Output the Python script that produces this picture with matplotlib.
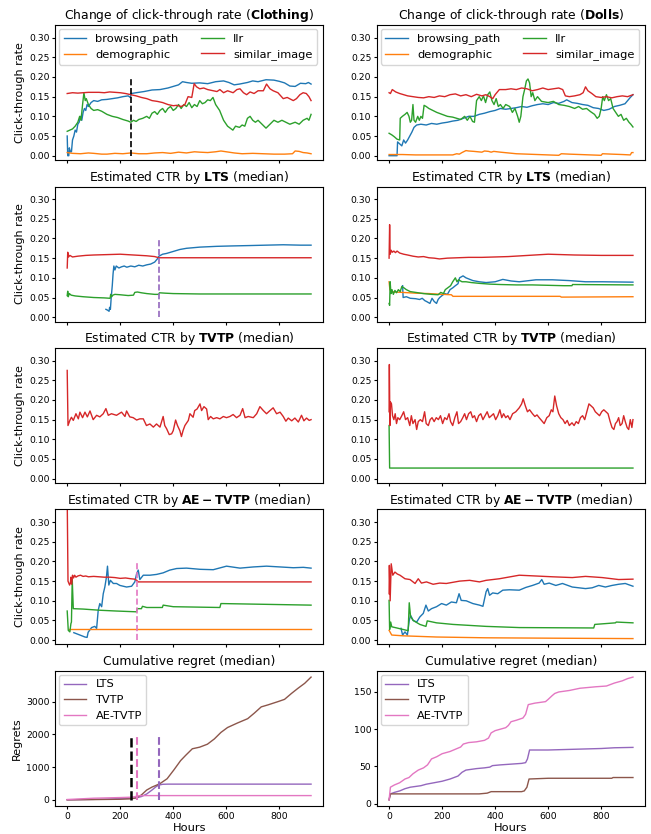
import numpy as np
import matplotlib
matplotlib.use('Agg')
import matplotlib.pyplot as plt

# (hour, value) pairs

# --- Change of click-through rate, Clothing
cloth_browsing = [(0, 0.05), (2, 0.0), (6, 0.0), (8, 0.02), (12, 0.01), (16, 0.01), (20, 0.04), (25, 0.05),
                  (30, 0.065), (35, 0.06), (40, 0.08), (45, 0.085), (50, 0.10), (55, 0.09), (60, 0.11), (65, 0.12),
                  (70, 0.115), (75, 0.13), (80, 0.125), (90, 0.135), (100, 0.14), (115, 0.138), (130, 0.142),
                  (150, 0.143), (170, 0.145), (190, 0.147), (210, 0.15), (230, 0.152), (238, 0.148), (242, 0.158),
                  (260, 0.16), (290, 0.163), (320, 0.167), (350, 0.168), (380, 0.172), (400, 0.176), (420, 0.18),
                  (435, 0.188), (450, 0.186), (470, 0.184), (500, 0.185), (530, 0.183), (560, 0.188), (590, 0.19),
                  (610, 0.186), (630, 0.18), (650, 0.182), (680, 0.186), (700, 0.19), (720, 0.188), (750, 0.193),
                  (780, 0.192), (800, 0.189), (820, 0.185), (840, 0.177), (860, 0.176), (880, 0.184), (900, 0.183),
                  (910, 0.186), (920, 0.182)]
cloth_demo = [(0, 0.008), (20, 0.006), (50, 0.005), (80, 0.007), (100, 0.006), (130, 0.004), (150, 0.004),
              (180, 0.006), (210, 0.005), (240, 0.007), (270, 0.005), (300, 0.005), (330, 0.007), (360, 0.008),
              (390, 0.006), (420, 0.009), (450, 0.007), (480, 0.01), (500, 0.009), (530, 0.008), (560, 0.01),
              (580, 0.012), (600, 0.01), (630, 0.007), (660, 0.005), (700, 0.006), (740, 0.005), (780, 0.004),
              (820, 0.004), (850, 0.005), (860, 0.012), (875, 0.011), (890, 0.008), (905, 0.007), (920, 0.005)]
cloth_llr = [(0, 0.062), (10, 0.065), (20, 0.068), (30, 0.075), (40, 0.085), (47, 0.1), (52, 0.09), (58, 0.13),
             (63, 0.16), (68, 0.14), (72, 0.145), (80, 0.13), (90, 0.12), (100, 0.115), (115, 0.117), (130, 0.113),
             (150, 0.105), (170, 0.1), (190, 0.097), (210, 0.092), (230, 0.088), (240, 0.085), (250, 0.09),
             (260, 0.087), (270, 0.092), (285, 0.095), (300, 0.1), (310, 0.095), (320, 0.108), (330, 0.112),
             (340, 0.105), (350, 0.115), (360, 0.12), (370, 0.11), (380, 0.12), (390, 0.125), (400, 0.115),
             (410, 0.12), (420, 0.13), (430, 0.12), (440, 0.13), (450, 0.125), (460, 0.135), (470, 0.122),
             (480, 0.13), (490, 0.125), (500, 0.14), (510, 0.132), (520, 0.135), (530, 0.142), (540, 0.14),
             (550, 0.148), (560, 0.13), (575, 0.115), (590, 0.09), (605, 0.075), (615, 0.07), (625, 0.065),
             (635, 0.075), (650, 0.072), (660, 0.078), (670, 0.075), (680, 0.095), (690, 0.1), (700, 0.09),
             (710, 0.085), (720, 0.09), (735, 0.08), (750, 0.07), (765, 0.08), (780, 0.09), (795, 0.085),
             (810, 0.09), (825, 0.085), (840, 0.08), (860, 0.085), (875, 0.08), (890, 0.09), (905, 0.095),
             (912, 0.09), (920, 0.105)]
cloth_sim = [(0, 0.158), (20, 0.16), (40, 0.159), (60, 0.16), (80, 0.161), (100, 0.161), (120, 0.161), (140, 0.16),
             (160, 0.162), (180, 0.161), (200, 0.16), (220, 0.158), (240, 0.155), (260, 0.152), (280, 0.148),
             (300, 0.145), (320, 0.14), (340, 0.138), (360, 0.135), (380, 0.13), (400, 0.127), (413, 0.128),
             (430, 0.125), (444, 0.13), (450, 0.14), (456, 0.15), (470, 0.148), (479, 0.183), (488, 0.175),
             (500, 0.17), (515, 0.172), (530, 0.168), (551, 0.165), (565, 0.163), (576, 0.168), (590, 0.16),
             (605, 0.165), (626, 0.16), (640, 0.168), (652, 0.17), (665, 0.16), (677, 0.155), (690, 0.162),
             (705, 0.158), (720, 0.165), (740, 0.165), (752, 0.182), (765, 0.17), (777, 0.165), (795, 0.16),
             (815, 0.145), (830, 0.148), (853, 0.14), (865, 0.145), (878, 0.155), (890, 0.16), (902, 0.158),
             (912, 0.15), (920, 0.14)]

# --- Change of click-through rate, Dolls
doll_browsing = [(0, 0.0), (30, 0.0), (32, 0.035), (40, 0.03), (48, 0.025), (55, 0.04), (62, 0.032), (70, 0.04),
                 (78, 0.05), (86, 0.06), (94, 0.072), (104, 0.078), (120, 0.08), (140, 0.078), (160, 0.082),
                 (180, 0.08), (200, 0.083), (220, 0.085), (240, 0.088), (260, 0.09), (280, 0.095), (300, 0.1),
                 (320, 0.1), (340, 0.105), (360, 0.108), (380, 0.112), (400, 0.115), (420, 0.12), (440, 0.118),
                 (460, 0.12), (480, 0.122), (500, 0.125), (520, 0.123), (540, 0.127), (560, 0.13), (580, 0.132),
                 (600, 0.13), (620, 0.135), (640, 0.133), (660, 0.138), (670, 0.142), (690, 0.135), (710, 0.133),
                 (730, 0.13), (750, 0.128), (770, 0.122), (790, 0.12), (810, 0.115), (830, 0.118), (850, 0.125),
                 (870, 0.128), (890, 0.132), (900, 0.14), (910, 0.148), (920, 0.155)]
doll_demo = [(0, 0.003), (50, 0.003), (100, 0.002), (150, 0.002), (200, 0.002), (240, 0.002), (255, 0.005),
             (265, 0.004), (275, 0.008), (290, 0.013), (300, 0.012), (320, 0.011), (350, 0.009), (360, 0.012),
             (375, 0.011), (385, 0.009), (395, 0.011), (420, 0.009), (450, 0.007), (480, 0.005), (520, 0.004),
             (560, 0.003), (600, 0.002), (640, 0.001), (650, 0.005), (680, 0.004), (720, 0.003), (760, 0.002),
             (800, 0.001), (805, 0.005), (840, 0.004), (880, 0.003), (910, 0.002), (915, 0.008), (920, 0.008)]
doll_llr = [(0, 0.057), (10, 0.053), (20, 0.048), (30, 0.042), (40, 0.04), (42, 0.095), (50, 0.1), (60, 0.105),
            (68, 0.11), (75, 0.1), (80, 0.085), (85, 0.09), (90, 0.13), (94, 0.09), (100, 0.085), (108, 0.1),
            (114, 0.09), (120, 0.1), (126, 0.095), (132, 0.128), (140, 0.125), (150, 0.12), (165, 0.115),
            (180, 0.11), (200, 0.105), (220, 0.1), (240, 0.098), (255, 0.095), (270, 0.092), (285, 0.1),
            (295, 0.09), (305, 0.1), (315, 0.087), (322, 0.085), (330, 0.14), (340, 0.15), (348, 0.14),
            (356, 0.152), (364, 0.135), (372, 0.155), (380, 0.162), (388, 0.14), (396, 0.13), (404, 0.145),
            (412, 0.125), (420, 0.13), (430, 0.12), (440, 0.13), (455, 0.125), (465, 0.11), (475, 0.12),
            (485, 0.1), (491, 0.085), (497, 0.1), (505, 0.15), (512, 0.17), (518, 0.19), (524, 0.195),
            (530, 0.185), (536, 0.15), (542, 0.16), (550, 0.14), (560, 0.15), (575, 0.138), (600, 0.135),
            (620, 0.138), (640, 0.13), (660, 0.128), (680, 0.125), (700, 0.12), (715, 0.125), (730, 0.118),
            (745, 0.12), (760, 0.112), (775, 0.105), (785, 0.095), (793, 0.1), (800, 0.12), (806, 0.15),
            (812, 0.14), (820, 0.155), (828, 0.14), (836, 0.145), (845, 0.12), (855, 0.11), (865, 0.1),
            (875, 0.105), (885, 0.09), (895, 0.095), (905, 0.085), (912, 0.08), (920, 0.073)]
doll_sim = [(0, 0.16), (5, 0.158), (12, 0.168), (25, 0.162), (40, 0.158), (55, 0.155), (70, 0.152), (90, 0.15),
            (110, 0.148), (130, 0.147), (150, 0.15), (170, 0.148), (190, 0.152), (210, 0.15), (230, 0.155),
            (250, 0.157), (270, 0.152), (290, 0.155), (310, 0.15), (330, 0.156), (350, 0.152), (365, 0.155),
            (380, 0.15), (391, 0.145), (400, 0.155), (416, 0.168), (440, 0.168), (460, 0.17), (480, 0.168),
            (500, 0.172), (520, 0.17), (540, 0.165), (560, 0.168), (580, 0.172), (600, 0.168), (620, 0.17),
            (640, 0.172), (655, 0.168), (665, 0.152), (680, 0.15), (700, 0.152), (720, 0.155), (732, 0.16),
            (741, 0.175), (750, 0.165), (765, 0.158), (780, 0.15), (800, 0.148), (820, 0.15), (840, 0.147),
            (860, 0.15), (880, 0.152), (900, 0.15), (920, 0.155)]

# --- LTS estimates
lts_cloth_browsing = [(146, 0.02), (152, 0.018), (158, 0.015), (160, 0.025), (163, 0.02), (166, 0.05), (170, 0.08),
                      (173, 0.11), (176, 0.13), (180, 0.12), (185, 0.13), (195, 0.125), (205, 0.128), (215, 0.13),
                      (225, 0.127), (240, 0.13), (255, 0.128), (270, 0.132), (285, 0.13), (300, 0.133), (315, 0.135),
                      (330, 0.14), (340, 0.148), (346, 0.155), (360, 0.16), (375, 0.162), (400, 0.167), (425, 0.172),
                      (450, 0.175), (500, 0.178), (564, 0.18), (620, 0.181), (689, 0.182), (750, 0.183),
                      (815, 0.184), (880, 0.183), (920, 0.183)]
lts_cloth_llr = [(0, 0.055), (2, 0.066), (4, 0.052), (8, 0.06), (15, 0.056), (30, 0.054), (60, 0.052), (100, 0.05),
                 (140, 0.049), (162, 0.048), (164, 0.058), (168, 0.052), (172, 0.056), (180, 0.058), (200, 0.057),
                 (230, 0.055), (250, 0.056), (255, 0.063), (265, 0.064), (280, 0.062), (300, 0.06), (330, 0.058),
                 (345, 0.058), (348, 0.062), (370, 0.061), (400, 0.06), (500, 0.059), (920, 0.059)]
lts_cloth_sim = [(0, 0.125), (2, 0.165), (5, 0.153), (10, 0.157), (20, 0.153), (40, 0.155), (70, 0.157),
                 (100, 0.158), (150, 0.159), (200, 0.16), (250, 0.158), (300, 0.156), (330, 0.154), (346, 0.151),
                 (920, 0.151)]
lts_doll_browsing = [(51, 0.08), (53, 0.05), (65, 0.052), (80, 0.048), (100, 0.047), (115, 0.045), (125, 0.048),
                     (135, 0.042), (141, 0.04), (154, 0.035), (162, 0.048), (170, 0.04), (179, 0.035), (185, 0.045),
                     (191, 0.05), (200, 0.055), (210, 0.06), (220, 0.058), (230, 0.07), (241, 0.075), (250, 0.08),
                     (260, 0.085), (266, 0.1), (279, 0.105), (290, 0.1), (316, 0.093), (340, 0.09), (366, 0.088),
                     (400, 0.09), (429, 0.096), (460, 0.092), (491, 0.09), (554, 0.095), (616, 0.095), (679, 0.093),
                     (741, 0.09), (804, 0.09), (920, 0.089)]
lts_doll_demo = [(0, 0.09), (3, 0.07), (8, 0.065), (20, 0.064), (50, 0.063), (100, 0.061), (150, 0.06),
                 (200, 0.058), (235, 0.057), (241, 0.053), (400, 0.053), (550, 0.053), (645, 0.053), (650, 0.051),
                 (920, 0.052)]
lts_doll_llr = [(0, 0.035), (2, 0.03), (4, 0.09), (7, 0.06), (11, 0.07), (16, 0.058), (22, 0.068), (28, 0.062),
                (35, 0.07), (42, 0.065), (48, 0.078), (55, 0.075), (65, 0.07), (80, 0.065), (100, 0.063),
                (130, 0.06), (160, 0.058), (185, 0.057), (195, 0.063), (205, 0.06), (212, 0.07), (222, 0.075),
                (232, 0.08), (240, 0.09), (250, 0.1), (256, 0.09), (262, 0.095), (275, 0.09), (290, 0.09),
                (310, 0.088), (340, 0.086), (380, 0.084), (420, 0.083), (480, 0.082), (540, 0.082), (600, 0.081),
                (660, 0.08), (690, 0.08), (692, 0.083), (920, 0.082)]
lts_doll_sim = [(0, 0.15), (2, 0.235), (4, 0.16), (8, 0.17), (12, 0.165), (18, 0.168), (24, 0.164), (30, 0.168),
                (40, 0.163), (55, 0.16), (70, 0.158), (90, 0.155), (110, 0.153), (130, 0.154), (150, 0.151),
                (170, 0.15), (190, 0.148), (220, 0.15), (260, 0.151), (300, 0.152), (350, 0.152), (400, 0.153),
                (450, 0.154), (500, 0.156), (550, 0.158), (600, 0.16), (650, 0.159), (700, 0.158), (800, 0.157),
                (920, 0.157)]

# --- TVTP estimates
tvtp_cloth_sim = [(0, 0.275), (3, 0.135), (10, 0.148), (16, 0.156), (23, 0.148), (33, 0.165), (42, 0.152),
                  (48, 0.169), (58, 0.155), (67, 0.169), (76, 0.157), (86, 0.172), (98, 0.15), (111, 0.161),
                  (123, 0.157), (136, 0.165), (146, 0.178), (155, 0.161), (167, 0.165), (186, 0.161), (205, 0.169),
                  (218, 0.158), (224, 0.172), (236, 0.157), (249, 0.155), (262, 0.149), (274, 0.152), (287, 0.152),
                  (299, 0.135), (312, 0.139), (325, 0.131), (337, 0.139), (350, 0.131), (362, 0.158), (368, 0.135),
                  (375, 0.127), (385, 0.112), (394, 0.114), (400, 0.122), (409, 0.149), (416, 0.135), (425, 0.122),
                  (431, 0.107), (437, 0.122), (444, 0.135), (457, 0.148), (463, 0.165), (475, 0.156), (481, 0.173),
                  (490, 0.177), (501, 0.19), (507, 0.173), (516, 0.183), (526, 0.177), (532, 0.15), (541, 0.158),
                  (551, 0.152), (564, 0.155), (576, 0.152), (589, 0.158), (601, 0.155), (614, 0.158), (626, 0.163),
                  (639, 0.155), (652, 0.161), (662, 0.178), (671, 0.155), (683, 0.158), (702, 0.155), (715, 0.165),
                  (727, 0.183), (740, 0.173), (752, 0.165), (765, 0.173), (777, 0.18), (790, 0.165), (803, 0.169),
                  (815, 0.158), (825, 0.146), (834, 0.154), (847, 0.147), (859, 0.154), (872, 0.144), (884, 0.161),
                  (893, 0.147), (903, 0.154), (913, 0.148), (920, 0.15)]
tvtp_doll_llr = [(0, 0.135), (2, 0.027), (920, 0.027)]
tvtp_doll_sim = [(0, 0.17), (1, 0.29), (3, 0.135), (5, 0.195), (9, 0.19), (13, 0.16), (18, 0.15), (23, 0.165),
                 (28, 0.14), (33, 0.155), (40, 0.15), (48, 0.16), (55, 0.17), (62, 0.15), (70, 0.155), (78, 0.135),
                 (84, 0.16), (90, 0.14), (98, 0.15), (104, 0.125), (110, 0.145), (118, 0.15), (126, 0.145),
                 (134, 0.17), (140, 0.14), (148, 0.135), (155, 0.15), (162, 0.155), (170, 0.145), (178, 0.155),
                 (186, 0.15), (194, 0.16), (202, 0.14), (210, 0.155), (218, 0.15), (226, 0.165), (232, 0.145),
                 (240, 0.135), (248, 0.155), (256, 0.17), (262, 0.14), (270, 0.145), (278, 0.155), (285, 0.165),
                 (292, 0.15), (300, 0.165), (308, 0.17), (315, 0.155), (322, 0.16), (330, 0.145), (338, 0.16),
                 (346, 0.165), (354, 0.15), (362, 0.16), (370, 0.17), (378, 0.155), (386, 0.16), (394, 0.165),
                 (402, 0.15), (410, 0.16), (418, 0.175), (425, 0.155), (432, 0.165), (440, 0.155), (448, 0.16),
                 (456, 0.15), (466, 0.165), (478, 0.17), (491, 0.18), (500, 0.19), (506, 0.203), (514, 0.185),
                 (522, 0.17), (530, 0.175), (541, 0.165), (550, 0.158), (558, 0.162), (566, 0.155), (575, 0.148),
                 (585, 0.14), (595, 0.155), (604, 0.16), (612, 0.175), (618, 0.17), (625, 0.21), (632, 0.185),
                 (640, 0.165), (648, 0.155), (656, 0.15), (664, 0.14), (672, 0.148), (680, 0.135), (690, 0.142),
                 (698, 0.135), (706, 0.145), (714, 0.14), (722, 0.155), (730, 0.16), (738, 0.15), (746, 0.17),
                 (754, 0.19), (762, 0.185), (770, 0.18), (778, 0.17), (786, 0.165), (794, 0.16), (802, 0.17),
                 (810, 0.175), (818, 0.17), (826, 0.165), (834, 0.145), (841, 0.13), (848, 0.125), (854, 0.14),
                 (860, 0.145), (866, 0.155), (872, 0.135), (879, 0.14), (885, 0.16), (891, 0.145), (898, 0.13),
                 (904, 0.125), (910, 0.15), (916, 0.13), (920, 0.15)]

# --- AE-TVTP estimates
ae_cloth_browsing = [(25, 0.019), (48, 0.013), (67, 0.008), (75, 0.007), (79, 0.02), (92, 0.032), (104, 0.035),
                     (111, 0.03), (117, 0.076), (123, 0.093), (130, 0.085), (136, 0.118), (142, 0.135), (148, 0.16),
                     (152, 0.188), (157, 0.14), (163, 0.152), (174, 0.144), (186, 0.144), (199, 0.139), (224, 0.135),
                     (243, 0.137), (255, 0.148), (262, 0.169), (268, 0.178), (274, 0.154), (287, 0.165), (312, 0.165),
                     (337, 0.167), (362, 0.171), (387, 0.178), (413, 0.182), (450, 0.183), (501, 0.18), (551, 0.179),
                     (601, 0.188), (652, 0.183), (702, 0.186), (752, 0.188), (803, 0.186), (853, 0.184),
                     (891, 0.185), (920, 0.183)]
ae_cloth_demo = [(8, 0.029), (920, 0.029)]
ae_cloth_llr = [(0, 0.074), (4, 0.025), (10, 0.021), (14, 0.042), (16, 0.046), (19, 0.154), (23, 0.08), (60, 0.079),
                (123, 0.076), (186, 0.074), (262, 0.072), (264, 0.08), (280, 0.08), (284, 0.086), (300, 0.083),
                (359, 0.083), (362, 0.089), (400, 0.085), (576, 0.083), (580, 0.093), (920, 0.089)]
ae_cloth_sim = [(0, 0.36), (3, 0.15), (6, 0.145), (9, 0.14), (12, 0.145), (14, 0.16), (17, 0.142), (20, 0.165),
                (24, 0.158), (28, 0.165), (33, 0.16), (40, 0.163), (50, 0.165), (60, 0.162), (70, 0.163),
                (80, 0.161), (100, 0.162), (120, 0.161), (140, 0.16), (160, 0.16), (180, 0.159), (200, 0.157),
                (220, 0.158), (240, 0.156), (255, 0.155), (262, 0.152), (268, 0.148), (920, 0.148)]
ae_doll_browsing = [(45, 0.03), (51, 0.013), (60, 0.021), (69, 0.013), (76, 0.05), (81, 0.063), (91, 0.05),
                    (104, 0.046), (116, 0.059), (129, 0.068), (139, 0.089), (148, 0.074), (160, 0.08), (179, 0.085),
                    (198, 0.093), (216, 0.089), (235, 0.097), (254, 0.095), (264, 0.118), (272, 0.101), (291, 0.1),
                    (316, 0.093), (341, 0.089), (354, 0.086), (366, 0.123), (372, 0.131), (379, 0.114), (391, 0.12),
                    (410, 0.118), (429, 0.127), (454, 0.128), (491, 0.127), (516, 0.134), (541, 0.139),
                    (566, 0.145), (576, 0.154), (585, 0.142), (604, 0.145), (629, 0.139), (654, 0.144),
                    (691, 0.135), (716, 0.133), (741, 0.131), (766, 0.133), (791, 0.139), (816, 0.135),
                    (841, 0.139), (866, 0.142), (891, 0.144), (920, 0.137)]
ae_doll_demo = [(0, 0.025), (10, 0.013), (54, 0.011), (179, 0.008), (366, 0.006), (616, 0.005), (920, 0.004)]
ae_doll_llr = [(0, 0.101), (2, 0.027), (6, 0.046), (10, 0.034), (29, 0.031), (54, 0.027), (72, 0.024), (76, 0.095),
               (81, 0.06), (91, 0.05), (116, 0.04), (139, 0.035), (144, 0.049), (179, 0.044), (241, 0.04),
               (366, 0.035), (491, 0.032), (772, 0.031), (776, 0.04), (854, 0.044), (857, 0.046), (920, 0.044)]
ae_doll_sim = [(0, 0.118), (1, 0.19), (4, 0.1), (8, 0.194), (14, 0.165), (22, 0.173), (31, 0.168), (41, 0.165),
               (60, 0.156), (79, 0.154), (98, 0.144), (110, 0.156), (122, 0.145), (141, 0.148), (166, 0.142),
               (191, 0.145), (216, 0.144), (266, 0.15), (304, 0.152), (341, 0.148), (366, 0.152), (416, 0.156),
               (466, 0.162), (491, 0.165), (554, 0.163), (616, 0.161), (691, 0.159), (741, 0.162), (804, 0.159),
               (866, 0.154), (920, 0.155)]

# --- cumulative regret
regret_cloth_lts = [(0, 0), (100, 15), (150, 25), (200, 40), (240, 50), (260, 60), (280, 100), (300, 180),
                    (320, 300), (335, 400), (345, 450), (360, 475), (380, 480), (920, 480)]
regret_cloth_tvtp = [(0, 0), (100, 8), (200, 18), (240, 30), (260, 60), (280, 150), (300, 300), (320, 390),
                     (349, 490), (377, 645), (403, 920), (428, 1200), (447, 1360), (472, 1560), (500, 1610),
                     (529, 1700), (555, 1860), (580, 2060), (605, 2210), (643, 2350), (681, 2480), (706, 2650),
                     (732, 2840), (757, 2900), (795, 3000), (820, 3070), (846, 3250), (871, 3410), (896, 3560),
                     (920, 3750)]
regret_cloth_ae = [(0, 10), (50, 30), (100, 50), (150, 60), (200, 70), (240, 80), (255, 95), (265, 120),
                   (280, 128), (300, 130), (920, 130)]
regret_doll_lts = [(0, 5), (5, 13), (20, 15), (40, 17), (60, 20), (80, 22), (100, 23), (120, 24), (140, 26),
                   (170, 28), (200, 30), (230, 33), (260, 37), (275, 42), (290, 45), (330, 47), (360, 48),
                   (380, 49), (390, 51), (420, 52), (460, 53), (500, 54), (515, 55), (522, 60), (530, 72),
                   (600, 72), (700, 73), (800, 74), (850, 75), (920, 75.5)]
regret_doll_tvtp = [(0, 5), (5, 13), (100, 13), (340, 13), (370, 14), (385, 16), (500, 16), (510, 17), (520, 22),
                    (528, 33), (600, 34), (840, 34), (845, 35), (920, 35)]
regret_doll_ae = [(0, 5), (5, 22), (20, 25), (40, 28), (60, 33), (75, 35), (90, 40), (110, 45), (130, 48),
                  (145, 52), (160, 60), (180, 63), (200, 67), (230, 70), (250, 73), (270, 76), (280, 80),
                  (300, 82), (330, 83), (360, 85), (375, 88), (385, 95), (400, 98), (420, 100), (440, 102),
                  (450, 105), (460, 110), (480, 112), (505, 115), (515, 120), (525, 133), (550, 135), (590, 137),
                  (600, 140), (615, 145), (625, 148), (640, 150), (680, 152), (720, 155), (780, 157), (820, 158),
                  (850, 162), (880, 165), (900, 168), (920, 170)]

# change points (hours)
true_change = 239
lts_detect = 346
ae_detect = 265

arm_names = ['browsing_path', 'demographic', 'llr', 'similar_image']
arm_colors = ['tab:blue', 'tab:orange', 'tab:green', 'tab:red']
algo_colors = {'LTS': 'tab:purple', 'TVTP': 'tab:brown', 'AE-TVTP': 'tab:pink'}


def draw(ax, pts, color, label=None):
    arr = np.array(pts, dtype=float)
    ax.plot(arr[:, 0], arr[:, 1], color=color, lw=1.0, label=label)


def main():
    fig, axes = plt.subplots(5, 2, figsize=(6.51, 8.34), dpi=100, sharex='col')
    fig.subplots_adjust(left=0.0845, right=0.991, top=0.97, bottom=0.0336, wspace=0.2, hspace=0.196)

    # row 1: true change
    for ax, series, name in [(axes[0, 0], [cloth_browsing, cloth_demo, cloth_llr, cloth_sim], 'Clothing'),
                             (axes[0, 1], [doll_browsing, doll_demo, doll_llr, doll_sim], 'Dolls')]:
        for pts, c, lab in zip(series, arm_colors, arm_names):
            draw(ax, pts, c, lab)
        ax.set_title(r'Change of click-through rate ($\bf{%s}$)' % name, fontsize=8.9, pad=4)
        ax.legend(loc='upper left', ncol=2, fontsize=8.2, borderaxespad=0.35)
    axes[0, 0].vlines(true_change, 0, 0.2, colors='k', linestyles='--', lw=1.2)

    # row 2: LTS
    draw(axes[1, 0], lts_cloth_browsing, arm_colors[0])
    draw(axes[1, 0], lts_cloth_llr, arm_colors[2])
    draw(axes[1, 0], lts_cloth_sim, arm_colors[3])
    axes[1, 0].vlines(lts_detect, 0, 0.2, colors=algo_colors['LTS'], linestyles='--', lw=1.2)
    draw(axes[1, 1], lts_doll_browsing, arm_colors[0])
    draw(axes[1, 1], lts_doll_demo, arm_colors[1])
    draw(axes[1, 1], lts_doll_llr, arm_colors[2])
    draw(axes[1, 1], lts_doll_sim, arm_colors[3])

    # row 3: TVTP
    draw(axes[2, 0], tvtp_cloth_sim, arm_colors[3])
    draw(axes[2, 1], tvtp_doll_llr, arm_colors[2])
    draw(axes[2, 1], tvtp_doll_sim, arm_colors[3])

    # row 4: AE-TVTP
    draw(axes[3, 0], ae_cloth_browsing, arm_colors[0])
    draw(axes[3, 0], ae_cloth_demo, arm_colors[1])
    draw(axes[3, 0], ae_cloth_llr, arm_colors[2])
    draw(axes[3, 0], ae_cloth_sim, arm_colors[3])
    axes[3, 0].vlines(ae_detect, 0, 0.2, colors=algo_colors['AE-TVTP'], linestyles='--', lw=1.2)
    draw(axes[3, 1], ae_doll_browsing, arm_colors[0])
    draw(axes[3, 1], ae_doll_demo, arm_colors[1])
    draw(axes[3, 1], ae_doll_llr, arm_colors[2])
    draw(axes[3, 1], ae_doll_sim, arm_colors[3])

    for col in range(2):
        axes[1, col].set_title(r'Estimated CTR by $\bf{LTS}$ (median)', fontsize=8.9, pad=4)
        axes[2, col].set_title(r'Estimated CTR by $\bf{TVTP}$ (median)', fontsize=8.9, pad=4)
        axes[3, col].set_title(r'Estimated CTR by $\bf{AE-TVTP}$ (median)', fontsize=8.9, pad=4)
        for row in range(4):
            axes[row, col].set_ylim(-0.011, 0.332)
    for row in range(4):
        axes[row, 0].set_ylabel('Click-through rate', fontsize=8, labelpad=3)

    # row 5: regret
    for ax, lts, tvtp, ae in [(axes[4, 0], regret_cloth_lts, regret_cloth_tvtp, regret_cloth_ae),
                              (axes[4, 1], regret_doll_lts, regret_doll_tvtp, regret_doll_ae)]:
        draw(ax, lts, algo_colors['LTS'], 'LTS')
        draw(ax, tvtp, algo_colors['TVTP'], 'TVTP')
        draw(ax, ae, algo_colors['AE-TVTP'], 'AE-TVTP')
        ax.set_title('Cumulative regret (median)', fontsize=8.9, pad=4)
        ax.set_xlabel('Hours', fontsize=8.2, labelpad=1.5)
        ax.legend(loc='upper left', fontsize=8.2, borderaxespad=0.35)
    ax = axes[4, 0]
    ax.vlines(true_change, 0, 2000, colors='k', linestyles='--', lw=1.8)
    ax.vlines(ae_detect, 0, 2000, colors=algo_colors['AE-TVTP'], linestyles='--', lw=1.5)
    ax.vlines(lts_detect, 0, 2000, colors=algo_colors['LTS'], linestyles='--', lw=1.5)
    ax.set_ylabel('Regrets', fontsize=8, labelpad=3)

    for ax in axes.flat:
        ax.tick_params(labelsize=6.7, length=2.5, pad=1.5)

    fig.savefig('out.png', dpi=100)


if __name__ == '__main__':
    main()
